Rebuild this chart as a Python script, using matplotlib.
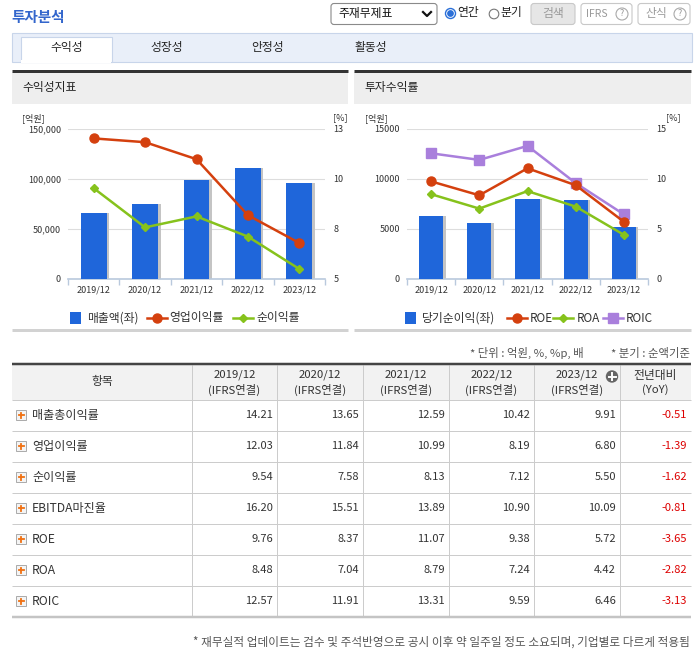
import matplotlib
matplotlib.use('Agg')
import matplotlib.pyplot as plt
from matplotlib.patches import Rectangle, FancyBboxPatch, Circle
from matplotlib.lines import Line2D
import numpy as np

plt.rcParams['font.family'] = ['Noto Sans CJK KR', 'DejaVu Sans']

W, H = 699, 649

# ---------------- data ----------------
periods = ['2019/12', '2020/12', '2021/12', '2022/12', '2023/12']
revenue = [66300, 75300, 99300, 111300, 96300]          # 매출액 (억원)
op_margin = [12.03, 11.84, 10.99, 8.19, 6.80]           # 영업이익률 (%)
net_margin = [9.54, 7.58, 8.13, 7.12, 5.50]             # 순이익률 (%)
net_income = [6330, 5630, 8030, 7930, 5230]             # 당기순이익 (억원)
roe = [9.76, 8.37, 11.07, 9.38, 5.72]
roa = [8.48, 7.04, 8.79, 7.24, 4.42]
roic = [12.57, 11.91, 13.31, 9.59, 6.46]

left_ticks = [0, 50000, 100000, 150000]
left_ticklabels = ['0', '50,000', '100,000', '150,000']
left_rticks = [5, 7.5, 10, 12.5]
left_rticklabels = ['5', '8', '10', '13']
right_ticks = [0, 5000, 10000, 15000]
right_ticklabels = ['0', '5000', '10000', '15000']
right_rticks = [0, 5, 10, 15]
right_rticklabels = ['0', '5', '10', '15']

row_labels = ['매출총이익률', '영업이익률', '순이익률', 'EBITDA마진율', 'ROE', 'ROA', 'ROIC']
table_vals = [
    [14.21, 13.65, 12.59, 10.42, 9.91],
    [12.03, 11.84, 10.99, 8.19, 6.80],
    [9.54, 7.58, 8.13, 7.12, 5.50],
    [16.20, 15.51, 13.89, 10.90, 10.09],
    [9.76, 8.37, 11.07, 9.38, 5.72],
    [8.48, 7.04, 8.79, 7.24, 4.42],
    [12.57, 11.91, 13.31, 9.59, 6.46],
]
yoy = [-0.51, -1.39, -1.62, -0.81, -3.65, -2.82, -3.13]

BLUE = '#1f66da'
RED = '#d4400e'
GREEN = '#86c21c'
PURPLE = '#a97fdc'
TXT = '#333333'

# ---------------- figure / background ----------------
fig = plt.figure(figsize=(W / 100, H / 100), dpi=100)
bg = fig.add_axes([0, 0, 1, 1])
bg.set_xlim(0, W)
bg.set_ylim(H, 0)
bg.axis('off')


def rect(x0, y0, x1, y1, fc='none', ec='none', lw=0.0, z=1):
    bg.add_patch(Rectangle((x0, y0), x1 - x0, y1 - y0, facecolor=fc, edgecolor=ec, linewidth=lw, zorder=z))


def hline(x0, x1, y, color, lw_px=1.0, z=2):
    bg.plot([x0, x1], [y, y], color=color, lw=lw_px * 0.72, solid_capstyle='butt', zorder=z)


def vline(x, y0, y1, color, lw_px=1.0, z=2):
    bg.plot([x, x], [y0, y1], color=color, lw=lw_px * 0.72, solid_capstyle='butt', zorder=z)


def txt(x, y, s, size=8.5, color=TXT, ha='left', va='center', weight='normal', **kw):
    bg.text(x, y, s, fontsize=size, color=color, ha=ha, va=va, fontweight=weight, zorder=5, **kw)


# title
txt(11, 17, '투자분석', size=10.5, color='#3366cc', weight='bold')

# controls
bg.add_patch(FancyBboxPatch((331, 3.5), 106, 21, boxstyle='round,pad=0,rounding_size=3',
                            facecolor='white', edgecolor='#8a8a8a', linewidth=0.8, zorder=2))
txt(338, 14, '주재무제표', size=8.5, color='#111111')
bg.plot([423, 427, 431], [12, 16, 12], color='#111111', lw=1.6, zorder=5)
bg.add_patch(Circle((450.5, 13.5), 5, facecolor='white', edgecolor='#2a6fd8', linewidth=1.0, zorder=4))
bg.add_patch(Circle((450.5, 13.5), 3.4, facecolor='#2a6fd8', edgecolor='none', zorder=5))
txt(457, 12.5, '연간', size=8.5, color='#222222')
bg.add_patch(Circle((494, 14), 4.8, facecolor='white', edgecolor='#777777', linewidth=0.8, zorder=4))
txt(500, 12.5, '분기', size=8.5, color='#222222')
for (x0, x1, fc) in [(531, 575, '#e6e6e6'), (581, 632, 'white'), (638, 690, 'white')]:
    bg.add_patch(FancyBboxPatch((x0, 3.5), x1 - x0, 21, boxstyle='round,pad=0,rounding_size=3',
                                facecolor=fc, edgecolor='#c8c8c8', linewidth=0.8, zorder=2))
txt(553, 13.5, '검색', size=8.5, color='#999999', ha='center')
txt(586, 14, 'IFRS', size=7.5, color='#999999')
txt(645, 13.5, '산식', size=8.5, color='#999999')
for cx in (622, 680):
    bg.add_patch(Circle((cx, 14), 6, facecolor='white', edgecolor='#aaaaaa', linewidth=0.8, zorder=4))
    txt(cx, 14, '?', size=6.5, color='#999999', ha='center')

# tabs
rect(11.5, 32.5, 691.5, 61.5, fc='#e9eff9', ec='#c8d5ea', lw=0.8)
rect(20.5, 36.5, 111.5, 62, fc='white', ec='#c8d5ea', lw=0.8, z=2)
rect(21, 60, 111, 63, fc='white', z=3)
for cx, s in [(67, '수익성'), (167, '성장성'), (268, '안정성'), (371, '활동성')]:
    txt(cx, 47.5, s, size=8.5, color='#222222', ha='center')

# chart panels
for (x0, x1, title) in [(12, 348, '수익성지표'), (354, 691, '투자수익률')]:
    rect(x0, 72, x1, 103.5, fc='#eeeeee')
    hline(x0, x1, 71, '#333333', 3)
    hline(x0, x1, 330, '#d2d2d2', 3)
    txt(x0 + 10, 88, title, size=8.5, color='#222222')


def px_axes(x0, y0, x1, y1):
    return fig.add_axes([x0 / W, 1 - y1 / H, (x1 - x0) / W, (y1 - y0) / H])


def style_chart(ax, ax2, ticks, labels, rticks, rlabels):
    xs = np.arange(len(periods))
    ax.set_xlim(-0.5, len(periods) - 0.5)
    ax.set_xticks(xs)
    ax.set_xticklabels(periods)
    ax.set_xticks(np.arange(-0.5, len(periods), 1), minor=True)
    ax.tick_params(axis='x', which='major', length=0, labelsize=6.5, labelcolor=TXT, pad=5)
    ax.tick_params(axis='x', which='minor', length=4, color='#b9c9dd', width=1)
    ax.set_ylim(ticks[0], ticks[-1])
    ax.set_yticks(ticks)
    ax.set_yticklabels(labels)
    ax.tick_params(axis='y', length=0, labelsize=6.5, labelcolor=TXT, pad=5)
    ax.set_axisbelow(True)
    ax.grid(axis='y', color='#dddddd', lw=0.8)
    for s in ('top', 'left', 'right'):
        ax.spines[s].set_visible(False)
    ax.spines['bottom'].set_color('#b9c9dd')
    ax.spines['bottom'].set_linewidth(1.2)
    ax.patch.set_alpha(0)
    ax2.set_ylim(rticks[0], rticks[-1])
    ax2.set_yticks(rticks)
    ax2.set_yticklabels(rlabels)
    ax2.tick_params(axis='y', length=0, labelsize=6.5, labelcolor=TXT, pad=6)
    for s in ax2.spines.values():
        s.set_visible(False)


xs = np.arange(len(periods))

# left chart
axL = px_axes(68, 129, 325, 279)
axL.bar(xs + 0.05, revenue, width=0.5, color='#c4c4c4', zorder=2)
axL.bar(xs, revenue, width=0.5, color=BLUE, zorder=3)
axL2 = axL.twinx()
axL2.plot(xs, op_margin, color=RED, lw=1.8, marker='o', ms=6.5, zorder=4)
axL2.plot(xs, net_margin, color=GREEN, lw=1.8, marker='D', ms=4.5, zorder=4)
style_chart(axL, axL2, left_ticks, left_ticklabels, left_rticks, left_rticklabels)

# right chart
axR = px_axes(407, 129, 648, 279)
axR.bar(xs + 0.05, net_income, width=0.5, color='#c4c4c4', zorder=2)
axR.bar(xs, net_income, width=0.5, color=BLUE, zorder=3)
axR2 = axR.twinx()
axR2.plot(xs, roic, color=PURPLE, lw=1.8, marker='s', ms=6.5, zorder=4)
axR2.plot(xs, roe, color=RED, lw=1.8, marker='o', ms=6.5, zorder=5)
axR2.plot(xs, roa, color=GREEN, lw=1.8, marker='D', ms=4.5, zorder=6)
style_chart(axR, axR2, right_ticks, right_ticklabels, right_rticks, right_rticklabels)

# unit labels
txt(22, 118, '[억원]', size=6.5)
txt(333, 118, '[%]', size=6.5)
txt(365, 118, '[억원]', size=6.5)
txt(666, 118, '[%]', size=6.5)


# legends (drawn manually to match page layout)
def leg_square(x0, label):
    rect(x0, 312, x0 + 11, 324, fc=BLUE, z=3)
    txt(x0 + 17, 318, label, size=8.5)


def leg_line(x0, color, marker, ms, label, tx):
    bg.add_line(Line2D([x0, x0 + 20], [318, 318], color=color, lw=1.8, zorder=4))
    bg.add_line(Line2D([x0 + 10], [318], color=color, marker=marker, ms=ms, zorder=5))
    txt(tx, 318, label, size=8.5)


leg_square(70, '매출액(좌)')
leg_line(147, RED, 'o', 6.5, '영업이익률', 169)
leg_line(233, GREEN, 'D', 4.5, '순이익률', 256)
leg_square(405, '당기순이익(좌)')
leg_line(507, RED, 'o', 6.5, 'ROE', 530)
leg_line(553, GREEN, 'D', 4.5, 'ROA', 577)
leg_line(603, PURPLE, 's', 6.5, 'ROIC', 626)

# notes
txt(470, 353, '* 단위 : 억원, %, %p, 배', size=8.2, color='#555555')
txt(690, 353, '* 분기 : 순액기준', size=8.2, color='#555555', ha='right')

# ---------------- table ----------------
cols = [12, 192, 277, 363, 449, 534, 620, 691]
top = 364
hdr_bot = 399.5
row_h = (617 - hdr_bot) / len(row_labels)
rect(12, top, 691, hdr_bot, fc='#f2f2f2')
hline(12, 691, top, '#444444', 2.5, z=3)
hline(12, 691, hdr_bot, '#cccccc', 1)
for i in range(1, len(row_labels)):
    hline(12, 691, hdr_bot + i * row_h, '#cccccc', 1)
hline(12, 691, 617, '#c4c4c4', 2.5, z=3)
for c in cols[1:-1]:
    vline(c, top + 1, 617, '#cccccc', 1)

txt((cols[0] + cols[1]) / 2, 382, '항목', size=8.5, ha='center')
for j, p in enumerate(periods):
    cx = (cols[j + 1] + cols[j + 2]) / 2
    txt(cx, 375, p, size=8.2, ha='center')
    txt(cx, 389.5, '(IFRS연결)', size=8.2, ha='center')
txt((cols[6] + cols[7]) / 2, 375, '전년대비', size=8.5, ha='center')
txt((cols[6] + cols[7]) / 2, 389.5, '(YoY)', size=8.2, ha='center')
bg.add_patch(Circle((612, 376.5), 6.2, facecolor='#666666', edgecolor='none', zorder=4))
bg.plot([608.5, 615.5], [376.5, 376.5], color='white', lw=1.4, zorder=5)
bg.plot([612, 612], [373, 380], color='white', lw=1.4, zorder=5)

for i, lab in enumerate(row_labels):
    cy = hdr_bot + (i + 0.5) * row_h
    rect(16, cy - 5, 26, cy + 5, fc='#f4f4f4', ec='#aaaaaa', lw=0.7, z=3)
    bg.plot([18.5, 23.5], [cy, cy], color='#f07010', lw=1.3, zorder=4)
    bg.plot([21, 21], [cy - 2.5, cy + 2.5], color='#f07010', lw=1.3, zorder=4)
    txt(32, cy, lab, size=8.7)
    for j, v in enumerate(table_vals[i]):
        txt(cols[j + 2] - 4, cy, f'{v:.2f}', size=8, ha='right')
    txt(cols[7] - 4, cy, f'{yoy[i]:.2f}', size=8, ha='right', color='#dd0000')

txt(690, 642, '* 재무실적 업데이트는 검수 및 주석반영으로 공시 이후 약 일주일 정도 소요되며, 기업별로 다르게 적용됨',
    size=8.4, color='#555555', ha='right')

fig.savefig('out.png', dpi=100)
